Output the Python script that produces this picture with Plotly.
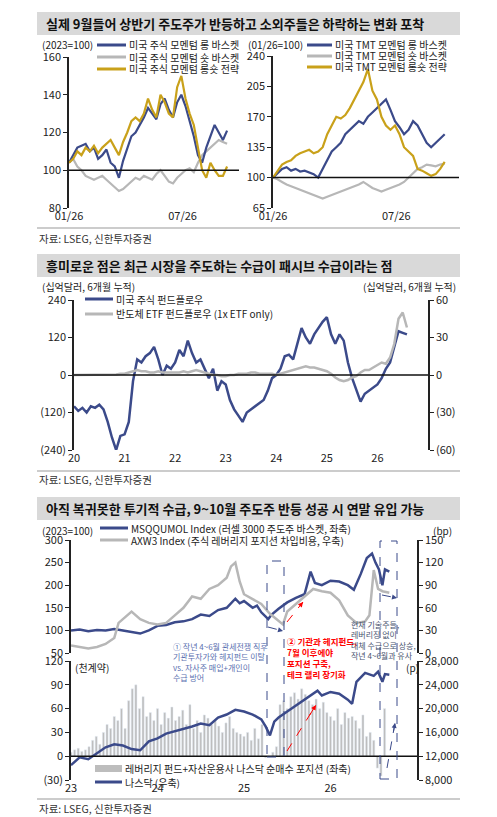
import plotly.graph_objects as go
import pandas as pd
import numpy as np

W, H = 497, 817
FONT = "Noto Sans CJK KR"
NAVY = "#3b4a8a"; GRAY = "#b7b7b7"; GOLD = "#c9a11a"

# ---------- panel 1 data ----------
p1_long = [104,108,112,113,114,110,112,106,108,111,104,102,96,105,112,118,120,124,128,133,130,127,135,138,132,128,136,140,134,126,118,108,104,112,118,124,120,116,121]
p1_short = [104,106,102,100,97,96,95,96,97,95,93,91,89,90,92,94,96,95,97,96,95,98,100,97,94,93,96,98,100,101,99,104,108,110,112,114,116,115,114]
p1_ls = [104,106,110,108,112,110,113,109,112,114,116,112,108,115,120,126,128,126,130,138,132,128,140,136,130,128,144,150,138,130,124,112,100,96,104,100,97,97,102]
p1r_long = [100,105,110,112,108,110,107,108,106,104,100,110,120,130,135,140,150,155,160,165,162,170,175,180,185,190,178,165,158,150,155,165,160,150,140,135,140,145,150]
p1r_short = [100,98,95,92,90,88,86,84,82,80,78,76,78,80,82,84,86,88,90,92,95,92,88,86,84,86,88,90,92,95,100,105,110,112,115,114,113,115,116]
p1r_ls = [100,108,115,118,120,125,128,130,132,128,130,135,150,160,170,168,172,180,190,200,210,225,200,190,170,160,155,160,150,135,130,125,110,108,105,102,104,110,118]

# ---------- panel 2 data (monthly, 2020-01 ..) ----------
p2_us = [-100,-115,-105,-120,-100,-105,-95,-110,-150,-200,-240,-195,
         -190,-150,-20,50,40,60,70,90,50,0,30,20,
         40,80,60,110,70,40,50,20,-10,20,-50,-20,
         -30,-80,-110,-130,-150,-120,-110,-100,-90,-80,-50,-10,
         0,20,60,65,50,100,150,120,100,130,150,170,
         185,130,100,130,110,40,-10,-50,-85,-60,-50,-40,
         -30,-10,20,40,90,140,135,130]
p2_semi = [0,0,0.5,0,0.5,0,0,0.5,0.5,0,0.5,1,
           1,2,3,4,3,3,2,2,3,2,2,2,
           2,2,3,2,3,4,3,2,1,0,0,-1,
           -1,0,0,1,1,1,2,2,1,1,1,1,
           0,1,2,3,4,5,6,7,6,6,5,4,
           3,1,-2,-4,-5,-4,-2,-1,2,4,4,6,
           8,10,9,14,25,45,50,38]

# ---------- panel 3 data ----------
m_x = [23.0,23.1,23.2,23.3,23.4,23.5,23.6,23.7,23.8,23.9,24.0,24.1,24.2,24.3,24.4,24.5,24.6,24.7,24.8,24.9,24.95,25.0,25.1,25.15,25.2,25.28,25.32,25.4,25.5,25.6,25.7,25.77,25.82,25.9,26.0,26.1,26.2,26.27,26.35,26.42,26.48,26.52,26.56,26.6,26.63,26.68]
m_y = [100,102,98,101,100,103,100,97,93,100,110,112,118,120,125,135,132,145,150,170,160,165,150,155,140,125,135,148,162,172,180,230,205,200,210,208,200,190,225,260,270,250,235,200,235,230]
a_x = [23.0,23.1,23.2,23.3,23.4,23.5,23.55,23.6,23.7,23.8,23.9,24.0,24.1,24.2,24.3,24.4,24.5,24.6,24.7,24.8,24.85,24.9,24.95,25.0,25.1,25.2,25.3,25.4,25.45,25.5,25.6,25.7,25.8,25.9,26.0,26.1,26.2,26.3,26.4,26.45,26.5,26.55,26.6,26.68]
a_y = [10,8,6,8,12,20,40,45,55,45,40,38,40,50,60,75,72,85,90,100,115,120,95,78,72,65,52,42,38,55,65,75,85,82,80,70,50,40,42,50,110,85,82,80]
n_x = [23.0,23.1,23.2,23.3,23.4,23.5,23.6,23.7,23.8,23.9,24.0,24.1,24.2,24.3,24.4,24.5,24.6,24.7,24.8,24.9,25.0,25.1,25.2,25.25,25.3,25.35,25.4,25.5,25.6,25.7,25.8,25.85,25.9,26.0,26.1,26.2,26.25,26.3,26.4,26.5,26.55,26.6,26.63,26.68]
n_y = [10500,11800,11500,12500,13500,14000,13800,13200,13000,14500,15000,15800,16200,16500,17000,17500,17200,18500,19000,19800,19500,19000,18200,17000,15500,17800,18500,19500,20500,21500,22500,23000,22200,22800,22500,21500,20800,24500,26000,25500,26200,24500,25800,25700]
bars = [5,8,10,6,8,12,20,25,15,30,40,35,50,45,60,35,70,85,90,60,75,50,55,45,
        60,40,55,48,62,45,50,58,40,65,35,45,30,52,48,40,45,38,30,42,50,35,30,28,
        25,30,20,35,22,40,-2,-1,5,12,65,70,60,75,80,72,85,78,70,65,72,60,68,55,
        50,45,60,40,55,48,50,45,35,52,25,30,20,-15,-25,60]

def dx(a, b): return [a / W, b / W]
def dy(t, b): return [1 - b / H, 1 - t / H]
def px(x): return x / W
def py(y): return 1 - y / H

fig = go.Figure()
d1 = pd.date_range("2025-01-26", "2025-10-05", periods=len(p1_long))
for ys, c, w in [(p1_short, GRAY, 2.2), (p1_long, NAVY, 2.2), (p1_ls, GOLD, 2.2)]:
    fig.add_trace(go.Scatter(x=d1, y=ys, mode="lines", line=dict(color=c, width=w), xaxis="x", yaxis="y"))
for ys, c, w in [(p1r_short, GRAY, 2.2), (p1r_long, NAVY, 2.2), (p1r_ls, GOLD, 2.2)]:
    fig.add_trace(go.Scatter(x=d1, y=ys, mode="lines", line=dict(color=c, width=w), xaxis="x2", yaxis="y2"))

x2 = 20 + np.arange(len(p2_us)) / 12
fig.add_trace(go.Scatter(x=x2, y=p2_semi, mode="lines", line=dict(color=GRAY, width=2.5), xaxis="x3", yaxis="y4"))
fig.add_trace(go.Scatter(x=x2, y=p2_us, mode="lines", line=dict(color=NAVY, width=2.5), xaxis="x3", yaxis="y3"))

fig.add_trace(go.Scatter(x=a_x, y=a_y, mode="lines", line=dict(color=GRAY, width=2.5), xaxis="x4", yaxis="y6"))
fig.add_trace(go.Scatter(x=m_x, y=m_y, mode="lines", line=dict(color=NAVY, width=2.5), xaxis="x4", yaxis="y5"))
bx = 23 + np.arange(len(bars)) / 24
fig.add_trace(go.Bar(x=bx, y=bars, marker_color="#bdbdbd", width=1/24*0.6, xaxis="x5", yaxis="y7"))
fig.add_trace(go.Scatter(x=n_x, y=n_y, mode="lines", line=dict(color=NAVY, width=2.5), xaxis="x5", yaxis="y8"))

tf = dict(family=FONT, size=11, color="#222")
ax_common = dict(showgrid=False, zeroline=False, tickfont=tf, fixedrange=True, automargin=False)
def yax(dom, rng, tv, tt, anchor, side="left", overlay=None, show=True):
    d = dict(ax_common, domain=dom, range=rng, tickvals=tv, ticktext=tt, anchor=anchor, side=side,
             showline=show, linecolor="#222", linewidth=1.5, ticks="outside", ticklen=4, tickcolor="#222")
    if overlay: d["overlaying"] = overlay
    return d

lay = dict(width=W, height=H, margin=dict(l=0, r=0, t=0, b=0, autoexpand=False), showlegend=False,
           paper_bgcolor="white", plot_bgcolor="rgba(0,0,0,0)", font=dict(family=FONT), barmode="overlay")
lay["xaxis"] = dict(ax_common, domain=dx(69, 239), range=["2025-01-26", "2025-10-24"], anchor="y",
                    tickvals=["2025-01-26", "2025-07-26"], ticktext=["01/26", "07/26"], showline=False, ticks="")
lay["yaxis"] = yax(dy(57, 208), [80, 160], [80, 100, 120, 140, 160], ["80", "100", "120", "140", "160"], "x")
lay["xaxis2"] = dict(ax_common, domain=dx(273, 459), range=["2025-01-26", "2025-10-26"], anchor="y2",
                     tickvals=["2025-01-26", "2025-07-26"], ticktext=["01/26", "07/26"], showline=False, ticks="")
lay["yaxis2"] = yax(dy(56, 208), [65, 240], [65, 100, 135, 170, 205, 240], ["65", "100", "135", "170", "205", "240"], "x2")
lay["xaxis3"] = dict(ax_common, domain=dx(74, 428), range=[20, 27.0], anchor="y3",
                     tickvals=[20, 21, 22, 23, 24, 25, 26], ticktext=["20", "21", "22", "23", "24", "25", "26"], showline=False, ticks="")
lay["yaxis3"] = yax(dy(300, 450), [-240, 240], [-240, -120, 0, 120, 240], ["(240)", "(120)", "0", "120", "240"], "x3")
lay["yaxis4"] = yax(dy(300, 450), [-60, 60], [-60, -30, 0, 30, 60], ["(60)", "(30)", "0", "30", "60"], "x3", "right", "y3")
lay["xaxis4"] = dict(ax_common, domain=dx(71, 417), range=[23, 27.0], anchor="y5", showticklabels=False, showline=False, ticks="")
lay["yaxis5"] = yax(dy(540, 653), [50, 300], [50, 100, 150, 200, 250, 300], ["50", "100", "150", "200", "250", "300"], "x4")
lay["yaxis6"] = yax(dy(540, 653), [0, 150], [0, 30, 60, 90, 120, 150], ["0", "30", "60", "90", "120", "150"], "x4", "right", "y5")
lay["xaxis5"] = dict(ax_common, domain=dx(71, 417), range=[23, 27.0], anchor="y7",
                     tickvals=[23, 24, 25, 26], ticktext=["23", "24", "25", "26"], showline=False, ticks="")
lay["yaxis7"] = yax(dy(661, 780), [-30, 120], [-30, 0, 30, 60, 90, 120], ["(30)", "0", "30", "60", "90", "120"], "x5")
lay["yaxis8"] = yax(dy(661, 780), [8000, 28000], [8000, 12000, 16000, 20000, 24000, 28000],
                    ["8,000", "12,000", "16,000", "20,000", "24,000", "28,000"], "x5", "right", "y7")
fig.update_layout(**lay)

shapes = []; ann = []
def text(x, y, s, size=11, color="#222", anchor="left", bold=False):
    if bold: s = "<b>" + s + "</b>"
    ann.append(dict(x=px(x), y=py(y), xref="paper", yref="paper", text=s, showarrow=False, xanchor=anchor,
                    yanchor="middle", align="left", font=dict(family=FONT, size=size, color=color)))
def pline(x0, y0, x1, y1, color, width=1, dash="solid"):
    shapes.append(dict(type="line", xref="paper", yref="paper", x0=px(x0), y0=py(y0), x1=px(x1), y1=py(y1),
                       line=dict(color=color, width=width, dash=dash)))

# title bars & sources
for (t, b, s) in [(12, 35, "실제 9월들어 상반기 주도주가 반등하고 소외주들은 하락하는 변화 포착"),
                  (254, 277, "흥미로운 점은 최근 시장을 주도하는 수급이 패시브 수급이라는 점"),
                  (497, 520, "아직 복귀못한 투기적 수급, 9~10월 주도주 반등 성공 시 연말 유입 가능")]:
    shapes.append(dict(type="rect", xref="paper", yref="paper", x0=px(37), x1=px(460), y0=py(b), y1=py(t),
                       fillcolor="#d9d9d9", line=dict(width=0), layer="below"))
    text(44, (t + b) / 2, s, 13, "#111", bold=True)
for (ly, ty) in [(228, 238), (471, 479), (799, 808)]:
    pline(37, ly, 460, ly, "#999", 1)
    text(37, ty, "자료: LSEG, 신한투자증권", 10.5, "#333")

# panel 1 extras
shapes.append(dict(type="line", xref="x", yref="y", x0="2025-01-26", x1="2025-10-24", y0=100, y1=100, line=dict(color="#111", width=1.5)))
shapes.append(dict(type="line", xref="x2", yref="y2", x0="2025-01-26", x1="2025-10-26", y0=100, y1=100, line=dict(color="#111", width=1.5)))
text(40, 45, "(2023=100)", 10)
text(246, 45, "(01/26=100)", 10)
for i, (c, s) in enumerate([(NAVY, "미국 주식 모멘텀 롱 바스켓"), (GRAY, "미국 주식 모멘텀 숏 바스켓"), (GOLD, "미국 주식 모멘텀 롱숏 전략")]):
    pline(97, 45 + 12 * i, 126, 45 + 12 * i, c, 3); text(127, 45 + 12 * i, s, 10)
for i, (c, s) in enumerate([(NAVY, "미국 TMT 모멘텀 롱 바스켓"), (GRAY, "미국 TMT 모멘텀 숏 바스켓"), (GOLD, "미국 TMT 모멘텀 롱숏 전략")]):
    pline(307, 45 + 11 * i, 332, 45 + 11 * i, c, 3); text(333, 45 + 11 * i, s, 10)

# panel 2 extras
shapes.append(dict(type="line", xref="x3", yref="y3", x0=20, x1=27, y0=0, y1=0, line=dict(color="#111", width=1.5)))
text(40, 286, "(십억달러, 6개월 누적)", 10)
text(458, 286, "(십억달러, 6개월 누적)", 10, anchor="right")
pline(85, 299, 113, 299, NAVY, 3); text(114, 299, "미국 주식 펀드플로우", 10)
pline(85, 314, 113, 314, GRAY, 3); text(114, 314, "반도체 ETF 펀드플로우 (1x ETF only)", 10)

# panel 3 extras
shapes.append(dict(type="line", xref="x5", yref="y7", x0=23, x1=27, y0=0, y1=0, line=dict(color="#111", width=1.5)))
text(40, 530, "(2023=100)", 10)
text(431, 530, "(bp)", 10)
pline(100, 528, 128, 528, NAVY, 3); text(129, 528, "MSQQUMOL Index (러셀 3000 주도주 바스켓, 좌축)", 10)
pline(100, 540, 128, 540, GRAY, 3); text(129, 540, "AXW3 Index (주식 레버리지 포지션 차입비용, 우축)", 10)
text(73, 667, "(천계약)", 10)
text(404, 667, "(p)", 10)
shapes.append(dict(type="rect", xref="paper", yref="paper", x0=px(95), x1=px(122), y0=py(772), y1=py(765), fillcolor="#bdbdbd", line=dict(width=0)))
text(123, 768, "레버리지 펀드+자산운용사 나스닥 순매수 포지션 (좌축)", 10)
pline(95, 782, 122, 782, NAVY, 3); text(123, 782, "나스닥 (우축)", 10)
for (x0, x1, t, b) in [(267, 284, 561, 757), (380, 397, 541, 779)]:
    shapes.append(dict(type="rect", xref="paper", yref="paper", x0=px(x0), x1=px(x1), y0=py(b), y1=py(t),
                       line=dict(color=NAVY, width=1, dash="dash"), fillcolor="rgba(0,0,0,0)"))
# arrows
def arrow(x0, y0, x1, y1, color, dash):
    pline(x0, y0, x1, y1, color, 1, dash)
    ann.append(dict(x=px(x1), y=py(y1), xref="paper", yref="paper", ax=(x0 - x1) * 0.25, ay=(y0 - y1) * 0.25,
                    showarrow=True, arrowhead=2, arrowsize=1, arrowwidth=1, arrowcolor=color, text=""))
arrow(268, 627, 283, 631, NAVY, "dash")
arrow(382, 595, 397, 598, NAVY, "dash")
arrow(387, 768, 395, 723, NAVY, "dash")
arrow(287, 622, 303, 602, "red", "dash")
arrow(287, 751, 316, 705, "red", "dash")
text(171, 662, "① 작년 4~6월 관세전쟁 직후<br>기관투자가와 헤지펀드 이탈<br>vs. 자사주 매입+개인이<br>수급 방어", 8, "#5a6fb0")
text(285, 657, "<b>② 기관과 헤지펀드,<br>7월 이후에야<br>포지션 구축,<br>테크 랠리 장기화</b>", 8.5, "red")
text(349, 640, "현재 기술주들,<br>레버리징 없이<br>대체 수급으로 상승,<br>작년 4~6월과 유사", 8, "#4a5570")

fig.update_layout(shapes=shapes, annotations=ann)
fig.write_html("out.html", config={"displayModeBar": False},
               post_script="document.body.style.margin='0';document.body.style.overflow='hidden';")
